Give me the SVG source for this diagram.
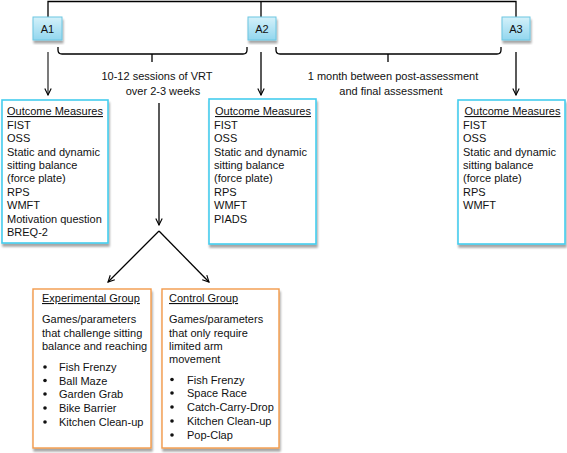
<svg xmlns="http://www.w3.org/2000/svg" width="567" height="453" viewBox="0 0 567 453">
<defs>
<linearGradient id="ag" x1="0" y1="0" x2="0" y2="1">
<stop offset="0" stop-color="#d4f1fa"/>
<stop offset="1" stop-color="#92d6ee"/>
</linearGradient>
<filter id="sh" x="-10%" y="-10%" width="130%" height="130%">
<feGaussianBlur in="SourceAlpha" stdDeviation="1.2"/>
<feOffset dx="1" dy="2.5" result="b"/>
<feComponentTransfer><feFuncA type="linear" slope="0.35"/></feComponentTransfer>
<feMerge><feMergeNode/><feMergeNode in="SourceGraphic"/></feMerge>
</filter>
<marker id="ar" viewBox="0 0 10 10" refX="9" refY="5" markerWidth="8" markerHeight="8" markerUnits="userSpaceOnUse" orient="auto">
<path d="M1,1 L9,5 L1,9" fill="none" stroke="#000" stroke-width="1.4"/>
</marker>
</defs>
<style>
text{font-family:"Liberation Sans",Arial,sans-serif;font-size:11px;fill:#111}
.c{text-anchor:middle}
.u{text-decoration:underline}
.ab{fill:url(#ag);stroke:#6cc6e2;stroke-width:1}
.ob{fill:#fff;stroke:#45cdee;stroke-width:1.6}
.gb{fill:#fff;stroke:#f39a4a;stroke-width:1.4}
.ln{fill:none;stroke:#000;stroke-width:1.3}
.ln2{fill:none;stroke:#333;stroke-width:1.3}
</style>
<g id="connectors">
<path class="ln" d="M48,17 V1.5 H516 V17"/>
<path class="ln" d="M261,1.5 V17"/>
<path class="ln" d="M58,47 V50 Q58,54 62,54 H243 Q247,54 247,50 V47 M152,54 V62"/>
<path class="ln" d="M276,47 V50 Q276,54 280,54 H497 Q501,54 501,50 V47 M388,54 V62"/>
<line class="ln2" x1="48" y1="52" x2="48" y2="95" marker-end="url(#ar)"/>
<line class="ln" x1="261" y1="52" x2="261" y2="95" marker-end="url(#ar)"/>
<line class="ln" x1="516" y1="52" x2="516" y2="95" marker-end="url(#ar)"/>
<line class="ln" x1="159" y1="103" x2="159" y2="225" marker-end="url(#ar)"/>
<line class="ln" x1="159" y1="231" x2="108" y2="282" marker-end="url(#ar)"/>
<line class="ln" x1="159" y1="231" x2="209" y2="282" marker-end="url(#ar)"/>
</g>
<g id="labels">
<text class="c" x="157" y="80">10-12 sessions of VRT</text>
<text class="c" x="163" y="95">over 2-3 weeks</text>
<text class="c" x="393" y="80">1 month between post-assessment</text>
<text class="c" x="391" y="95">and final assessment</text>
</g>
<g id="A1"><rect class="ab" x="33" y="17" width="29" height="23" filter="url(#sh)"/><text class="c" x="47.5" y="32.5">A1</text></g>
<g id="A2"><rect class="ab" x="248" y="17" width="28" height="23" filter="url(#sh)"/><text class="c" x="262" y="32.5">A2</text></g>
<g id="A3"><rect class="ab" x="502" y="17" width="28" height="23" filter="url(#sh)"/><text class="c" x="516" y="32.5">A3</text></g>
<g id="om1">
<rect class="ob" x="2" y="100" width="106" height="143" filter="url(#sh)"/>
<text class="c u" x="55" y="115">Outcome Measures</text>
<text x="7" y="128.5">FIST</text>
<text x="7" y="142">OSS</text>
<text x="7" y="155.5">Static and dynamic</text>
<text x="7" y="168.5">sitting balance</text>
<text x="7" y="182">(force plate)</text>
<text x="7" y="195.5">RPS</text>
<text x="7" y="209">WMFT</text>
<text x="7" y="222.5">Motivation question</text>
<text x="7" y="236">BREQ-2</text>
</g>
<g id="om2">
<rect class="ob" x="209" y="99" width="107" height="145" filter="url(#sh)"/>
<text class="c u" x="263" y="115">Outcome Measures</text>
<text x="214" y="128.5">FIST</text>
<text x="214" y="142">OSS</text>
<text x="214" y="155.5">Static and dynamic</text>
<text x="214" y="168.5">sitting balance</text>
<text x="214" y="182">(force plate)</text>
<text x="214" y="195.5">RPS</text>
<text x="214" y="209">WMFT</text>
<text x="214" y="222.5">PIADS</text>
</g>
<g id="om3">
<rect class="ob" x="458" y="100" width="107" height="144" filter="url(#sh)"/>
<text class="c u" x="512.5" y="115">Outcome Measures</text>
<text x="463" y="128.5">FIST</text>
<text x="463" y="142">OSS</text>
<text x="463" y="155.5">Static and dynamic</text>
<text x="463" y="168.5">sitting balance</text>
<text x="463" y="182">(force plate)</text>
<text x="463" y="195.5">RPS</text>
<text x="463" y="209">WMFT</text>
</g>
<g id="experimental">
<rect class="gb" x="33" y="289" width="118" height="159" filter="url(#sh)"/>
<text class="u" x="42" y="302">Experimental Group</text>
<text x="42" y="323">Games/parameters</text>
<text x="42" y="336.5">that challenge sitting</text>
<text x="42" y="350">balance and reaching</text>
<circle cx="45" cy="367" r="1.8" fill="#111"/><text x="59" y="371">Fish Frenzy</text>
<circle cx="45" cy="380.5" r="1.8" fill="#111"/><text x="59" y="384.5">Ball Maze</text>
<circle cx="45" cy="394" r="1.8" fill="#111"/><text x="59" y="398">Garden Grab</text>
<circle cx="45" cy="408" r="1.8" fill="#111"/><text x="59" y="412">Bike Barrier</text>
<circle cx="45" cy="422" r="1.8" fill="#111"/><text x="59" y="426">Kitchen Clean-up</text>
</g>
<g id="control">
<rect class="gb" x="162" y="289" width="117" height="159" filter="url(#sh)"/>
<text class="u" x="169" y="302">Control Group</text>
<text x="169" y="323">Games/parameters</text>
<text x="169" y="336.5">that only require</text>
<text x="169" y="350">limited arm</text>
<text x="169" y="363">movement</text>
<circle cx="172" cy="379.5" r="1.8" fill="#111"/><text x="187" y="383.5">Fish Frenzy</text>
<circle cx="172" cy="393" r="1.8" fill="#111"/><text x="187" y="397">Space Race</text>
<circle cx="172" cy="407" r="1.8" fill="#111"/><text x="187" y="411">Catch-Carry-Drop</text>
<circle cx="172" cy="421" r="1.8" fill="#111"/><text x="187" y="425">Kitchen Clean-up</text>
<circle cx="172" cy="435" r="1.8" fill="#111"/><text x="187" y="439">Pop-Clap</text>
</g>
</svg>
